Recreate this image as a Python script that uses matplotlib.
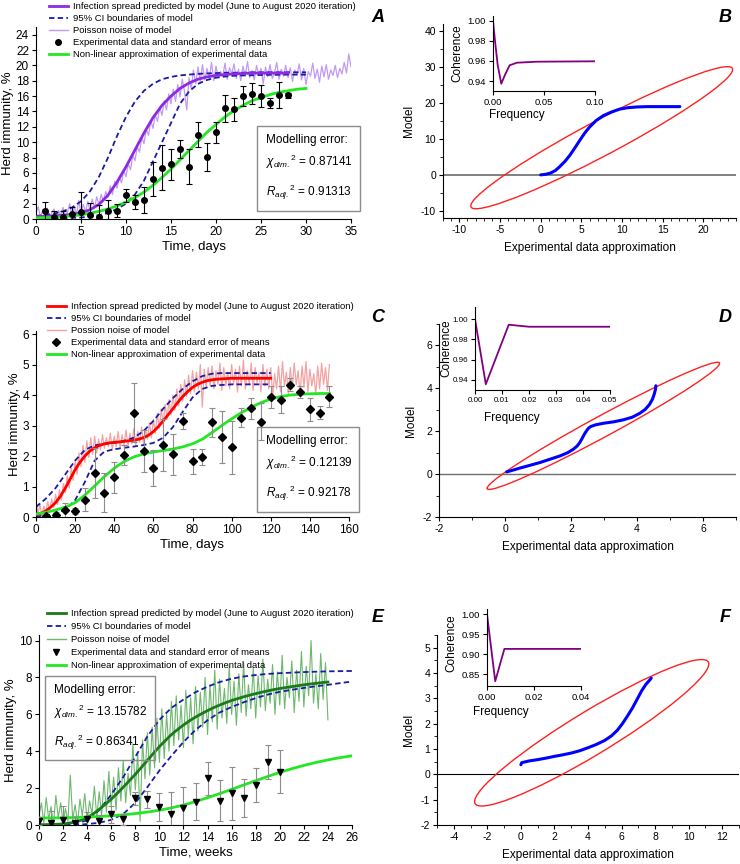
import numpy as np
import matplotlib.pyplot as plt
from matplotlib.patches import Ellipse, Rectangle
from matplotlib.lines import Line2D

plt.rcParams['font.family'] = ['Liberation Sans', 'DejaVu Sans']
plt.rcParams['mathtext.fontset'] = 'custom'
plt.rcParams['mathtext.rm'] = 'Liberation Sans'
plt.rcParams['mathtext.it'] = 'Liberation Sans:italic'
plt.rcParams['axes.linewidth'] = 0.8
plt.rcParams['axes.unicode_minus'] = False

# ---------------- panel A (days) ----------------
a_fit = [0.15, 0.18, 0.22, 0.3, 0.4, 0.55, 0.75, 1.0, 1.3, 1.7, 2.2, 2.8, 3.5, 4.4, 5.4, 6.5,
         7.7, 8.9, 10.1, 11.3, 12.3, 13.3, 14.1, 14.8, 15.4, 15.8, 16.2, 16.5, 16.7, 16.9, 17.0]
a_model = [0.3, 0.35, 0.4, 0.5, 0.6, 0.8, 1.2, 1.9, 3.1, 4.8, 6.8, 9.0, 11.2, 13.2, 14.8, 16.0,
           17.0, 17.7, 18.2, 18.5, 18.7, 18.8, 18.9, 18.95, 19.0, 19.0, 19.0, 19.0, 19.0]
a_ci_up = [0.4, 0.5, 0.7, 1.0, 1.5, 2.3, 3.6, 5.5, 8.0, 10.8, 13.3, 15.3, 16.7, 17.6, 18.2, 18.5,
           18.7, 18.8, 18.9, 18.95, 19.0, 19.05, 19.05, 19.05, 19.1, 19.1, 19.1, 19.1, 19.1, 19.1, 19.1]
a_ci_lo = [0.1, 0.1, 0.1, 0.12, 0.15, 0.2, 0.3, 0.5, 0.8, 1.3, 2.0, 3.2, 5.0, 7.5, 10.0, 12.5,
           15.0, 16.6, 17.6, 18.1, 18.4, 18.55, 18.65, 18.7, 18.72, 18.75, 18.77, 18.78, 18.8, 18.8, 18.8]
a_noise = [0.9, 1.6, 0.2, 1.2, 0.4, 1.4, 0.1, 0.8, 1.3, 0.2, 1.1, 0.5, 1.5, 0.3, 0.9, 2.0,
           0.4, 1.6, 0.6, 2.4, 0.7, 1.9, 0.9, 2.3, 1.1, 2.6, 1.4, 2.9, 1.8, 3.2, 2.3, 3.6,
           2.8, 4.3, 3.2, 4.9, 4.0, 5.5, 4.7, 6.3, 5.5, 7.2, 6.4, 8.3, 7.6, 9.4, 8.7, 10.6,
           9.8, 11.7, 10.9, 12.8, 11.8, 13.6, 12.7, 14.6, 13.5, 15.4, 14.2, 16.3, 15.0, 16.9, 15.3, 17.5,
           15.9, 18.2, 16.6, 14.2, 18.4, 17.0, 19.4, 17.6, 19.8, 17.9, 20.1, 18.1, 19.6, 18.3, 20.4, 18.0,
           19.9, 18.4, 19.2, 18.6, 20.3, 18.2, 19.7, 18.9, 20.2, 18.3, 19.5, 18.0, 19.9, 18.6, 20.5, 18.4,
           19.3, 18.1, 20.0, 18.7, 19.6, 17.6, 19.8, 18.5, 20.1, 18.3, 19.0, 20.4, 18.2, 19.5, 18.6, 20.0,
           18.4, 19.7, 17.9, 19.4, 18.8, 20.2, 18.1, 19.6, 17.5, 19.2, 18.6, 20.3, 18.3, 19.5, 17.8, 19.9,
           18.5, 20.1, 18.2, 19.4, 18.7, 20.0, 18.4, 19.6, 18.9, 20.4, 19.0, 21.5, 19.8]
a_exp_days = list(range(1, 29))
a_exp = [1.04, 0.3, 0.3, 0.7, 0.96, 0.5, 0.3, 1.1, 1.1, 3.1, 2.2, 2.5, 5.2, 6.7, 7.1, 9.1,
         6.8, 11.0, 8.1, 11.3, 14.4, 14.3, 16.0, 16.3, 16.0, 15.1, 16.2, 16.1]
a_err = [1.2, 0.7, 0.8, 0.8, 2.5, 1.6, 1.5, 1.4, 0.9, 0.87, 0.87, 1.67, 2.17, 2.9, 1.96, 1.2,
         2.3, 1.65, 1.85, 1.35, 1.78, 1.48, 1.26, 1.35, 1.4, 0.65, 1.7, 0.3]

# ---------------- panel B ----------------
b_x = [0.0, 0.6, 1.2, 1.8, 2.3, 3.0, 3.6, 4.2, 4.8, 5.4, 6.0, 6.8, 7.7, 8.7, 9.7, 10.7, 11.8, 13.0, 14.5, 16.0, 17.1]
b_y = [0.0, 0.15, 0.5, 1.2, 2.2, 3.8, 5.5, 7.5, 9.6, 11.6, 13.3, 15.1, 16.5, 17.5, 18.3, 18.7, 18.9, 19.0, 19.0, 19.0, 19.0]
b_ell = dict(center=(7.5, 10.35), width=50.5, height=7.05, angle=51.1)
b_freq = [0, 0.0023, 0.0046, 0.0081, 0.012, 0.0163, 0.0235, 0.043, 0.1]
b_coh = [1.0, 0.977, 0.956, 0.9373, 0.9467, 0.9557, 0.9583, 0.9593, 0.9597]

# ---------------- panel C (days) ----------------
c_model = [0.08, 0.12, 0.2, 0.32, 0.47, 0.68, 0.95, 1.25, 1.55, 1.8, 2.0, 2.16, 2.27, 2.35, 2.4, 2.43,
           2.45, 2.46, 2.48, 2.5, 2.52, 2.55, 2.6, 2.68, 2.8, 2.96, 3.15, 3.35, 3.55, 3.76, 3.95, 4.11,
           4.25, 4.35, 4.42, 4.47, 4.5, 4.52, 4.53, 4.54, 4.55, 4.55, 4.55, 4.55, 4.55, 4.55, 4.55, 4.55, 4.55]
c_ci_up = [0.33, 0.6, 0.95, 1.4, 1.85, 2.2, 2.35, 2.4, 2.43, 2.5, 2.6, 2.82, 3.15, 3.55, 3.9, 4.2,
           4.45, 4.62, 4.7, 4.72, 4.72, 4.72, 4.72, 4.72, 4.72]
c_ci_lo = [0.02, 0.05, 0.1, 0.25, 0.55, 1.15, 1.85, 2.15, 2.22, 2.27, 2.31, 2.36, 2.43, 2.6, 2.95, 3.45,
           3.92, 4.2, 4.3, 4.33, 4.35, 4.35, 4.35, 4.35, 4.35]
c_noise = [0.55, 0.1, 0.4, 0.05, 0.35, 0.15, 0.5, 0.2, 0.6, 0.3, 0.75, 0.4, 0.9, 0.55, 1.1, 0.8,
           1.35, 0.95, 1.6, 1.2, 1.85, 1.4, 2.1, 1.65, 2.35, 1.8, 2.5, 1.95, 2.6, 2.05, 2.65, 2.1,
           2.55, 2.2, 2.7, 2.25, 2.6, 2.3, 2.75, 2.2, 2.65, 2.3, 2.8, 2.25, 2.7, 2.35, 2.85, 2.3,
           2.75, 2.4, 2.9, 2.35, 2.8, 2.45, 2.95, 2.4, 2.9, 2.55, 3.1, 2.6, 3.2, 2.75, 3.4, 2.9,
           3.55, 3.05, 3.7, 3.2, 3.85, 3.35, 4.0, 3.5, 4.2, 3.65, 4.35, 3.8, 4.5, 3.95, 4.65, 4.05,
           4.8, 4.1, 4.75, 4.2, 5.0, 3.6, 4.85, 4.25, 4.9, 4.3, 4.95, 4.2, 4.8, 4.35, 5.05, 4.15,
           4.9, 4.3, 4.75, 4.2, 5.0, 4.35, 4.85, 4.1, 4.95, 4.3, 5.15, 4.2, 4.8, 4.35, 5.05, 4.15,
           4.9, 4.4, 4.75, 4.1, 5.0, 4.3, 4.85, 4.2, 4.9, 3.95, 4.7, 4.2, 4.95, 4.1, 5.1, 4.3,
           4.75, 4.05, 4.9, 4.2, 5.05, 4.35, 4.8, 4.0, 4.95, 4.25, 5.1, 4.1, 4.85, 4.3, 4.7, 4.0,
           4.95, 4.2, 5.05, 4.35, 4.9, 4.15, 5.0]
c_exp_days = list(range(5, 151, 5))
c_exp = [0.02, 0.06, 0.22, 0.2, 0.57, 1.43, 0.8, 1.3, 2.04, 3.42, 2.17, 1.61, 2.35, 2.06, 3.15,
         1.83, 1.97, 3.1, 2.63, 2.28, 3.26, 3.56, 3.13, 3.93, 3.84, 4.34, 4.09, 3.53, 3.42, 3.95]
c_err = [0.05, 0.1, 0.25, 0.1, 0.37, 0.82, 0.64, 0.52, 0.32, 0.97, 0.68, 0.6, 0.85, 0.67, 0.25,
         0.41, 0.25, 0.47, 0.85, 0.87, 0.3, 0.33, 0.6, 0.36, 0.44, 0.22, 0.2, 0.38, 0.22, 0.33]
c_fit = [0.1, 0.15, 0.23, 0.32, 0.47, 0.72, 1.02, 1.33, 1.6, 1.82, 1.97, 2.07, 2.13, 2.18, 2.23, 2.3,
         2.4, 2.55, 2.77, 3.0, 3.22, 3.42, 3.6, 3.75, 3.87, 3.95, 4.0, 4.03, 4.04, 4.05, 4.05]

# ---------------- panel D ----------------
d_x = [0.05, 0.45, 1.06, 1.67, 1.9, 2.07, 2.18, 2.27, 2.34, 2.4, 2.47, 2.53, 2.6, 2.75, 2.98, 3.3,
       3.58, 3.85, 4.09, 4.25, 4.38, 4.47, 4.52, 4.56, 4.57]
d_y = [0.1, 0.28, 0.54, 0.85, 1.0, 1.16, 1.3, 1.48, 1.67, 1.85, 2.02, 2.14, 2.22, 2.3, 2.37, 2.44,
       2.53, 2.65, 2.84, 3.02, 3.25, 3.5, 3.72, 3.95, 4.12]
d_ell = dict(center=(2.98, 2.25), width=9.17, height=0.86, angle=40.0)
d_freq = [0, 0.004, 0.0125, 0.02, 0.05]
d_coh = [1.0, 0.9357, 0.9945, 0.9925, 0.9925]

# ---------------- panel E (weeks) ----------------
e_model = [0.02, 0.02, 0.03, 0.04, 0.06, 0.1, 0.16, 0.26, 0.4, 0.6, 0.85, 1.12, 1.4, 1.72, 2.05, 2.4,
           2.75, 3.12, 3.5, 3.88, 4.25, 4.58, 4.9, 5.17, 5.42, 5.65, 5.85, 6.03, 6.2, 6.36, 6.5, 6.63,
           6.75, 6.85, 6.95, 7.04, 7.12, 7.2, 7.27, 7.34, 7.4, 7.45, 7.5, 7.55, 7.6, 7.64, 7.68, 7.72, 7.75]
e_ci_up = [0.0, 0.01, 0.03, 0.08, 0.25, 0.8, 1.65, 2.6, 3.7, 4.8, 5.7, 6.35, 6.8, 7.2, 7.5, 7.75,
           7.93, 8.05, 8.13, 8.19, 8.23, 8.26, 8.29, 8.31, 8.33, 8.34, 8.35]
e_ci_lo = [0.0, 0.0, 0.01, 0.02, 0.05, 0.12, 0.28, 0.6, 1.2, 2.05, 2.95, 3.75, 4.5, 5.15, 5.68, 6.1,
           6.4, 6.65, 6.88, 7.07, 7.22, 7.33, 7.43, 7.52, 7.6, 7.69, 7.78]
e_fit = [0.38, 0.38, 0.39, 0.41, 0.43, 0.46, 0.5, 0.55, 0.62, 0.7, 0.8, 0.93, 1.08, 1.27, 1.48, 1.7,
         1.93, 2.17, 2.4, 2.63, 2.85, 3.05, 3.23, 3.39, 3.53, 3.65, 3.75]
e_noise = [0.5, 1.2, 0.1, 1.5, 0.3, 1.0, 0.0, 1.6, 0.4, 1.2, 0.1, 0.9, 0.2, 2.7, 0.3, 1.1,
           0.1, 1.4, 0.5, 1.7, 0.2, 1.3, 0.6, 2.1, 0.4, 1.8, 0.5, 2.4, 0.7, 2.9, 1.0, 2.6,
           0.8, 3.1, 1.3, 3.5, 1.2, 2.8, 1.6, 4.4, 1.9, 3.9, 0.2, 4.6, 2.5, 5.0, 2.7, 5.3,
           3.1, 5.8, 3.4, 6.3, 3.6, 6.0, 4.0, 6.7, 4.3, 7.0, 4.6, 6.5, 4.2, 7.3, 4.8, 6.9,
           4.4, 7.5, 5.1, 7.2, 5.3, 8.0, 4.9, 7.6, 5.6, 8.4, 5.2, 7.9, 5.8, 7.4, 5.5, 8.6,
           6.0, 7.8, 5.4, 8.2, 6.1, 8.8, 5.9, 7.6, 6.3, 8.5, 5.8, 8.1, 6.4, 9.0, 6.2, 7.9,
           6.6, 8.7, 6.0, 8.3, 6.5, 9.2, 6.3, 8.0, 6.9, 8.9, 6.1, 8.4, 6.7, 9.4, 6.4, 8.6,
           7.0, 10.0, 6.6, 8.2, 6.3, 9.3, 6.8, 8.8, 5.7]
e_exp_weeks = list(range(0, 21))
e_exp = [0.22, 0.13, 0.27, 0.13, 0.3, 0.23, 0.58, 0.3, 1.45, 1.39, 1.0, 0.6, 0.94, 1.25, 2.53, 1.32,
         1.72, 1.46, 2.17, 3.44, 2.89]
e_err = [0.2, 0.65, 0.75, 0.3, 0.42, 0.3, 0.45, 0.3, 0.35, 0.47, 0.76, 1.2, 1.1, 1.0, 0.88, 1.13,
         1.45, 1.03, 0.9, 0.92, 1.15]

# ---------------- panel F ----------------
f_x = [0.0, 0.05, 0.5, 1.0, 1.5, 2.0, 2.5, 3.0, 3.5, 4.0, 4.5, 5.0, 5.4, 5.75, 6.05, 6.35, 6.65,
       6.95, 7.2, 7.45, 7.65, 7.77]
f_y = [0.38, 0.46, 0.53, 0.58, 0.64, 0.71, 0.77, 0.84, 0.93, 1.05, 1.18, 1.34, 1.52, 1.74, 2.0,
       2.3, 2.62, 2.99, 3.3, 3.55, 3.7, 3.8]
f_ell = dict(center=(4.22, 1.64), width=15.0, height=1.85, angle=21.6)
f_freq = [0, 0.0035, 0.0074, 0.04]
f_coh = [1.0, 0.832, 0.913, 0.913]

W, H = 740, 864


def fx(px):
    return px / W


def fy(py):
    return 1 - py / H


def box(l, t, r, b):
    return [fx(l), fy(b), fx(r) - fx(l), fy(t) - fy(b)]


def clean(ax, fs):
    ax.spines['top'].set_visible(False)
    ax.spines['right'].set_visible(False)
    ax.tick_params(direction='out', length=3, width=0.8, labelsize=fs, pad=2)
    ax.tick_params(which='minor', direction='out', length=2, width=0.6)


fig = plt.figure(figsize=(7.4, 8.64), dpi=100)

CI = '#1a1aa8'
LIME = '#22e822'


def time_panel(rect, t_model, model, model_col, t_noise, noise, noise_col, noise_lw,
               t_ci, ci_up, ci_lo, t_fit, fit, t_exp, exp, err, mk, ms, ecol,
               labels, leg_xy, leg_sp, xlim, ylim, xticks, yticks, xlabel, err_box, err_texts):
    ax = fig.add_axes(rect)
    clean(ax, 8.5)
    ax.plot(t_noise, noise, color=noise_col, lw=noise_lw, zorder=1)
    ax.plot(t_ci, ci_up, color=CI, lw=1.3, ls=(0, (3, 1.8)), zorder=2)
    ax.plot(t_ci, ci_lo, color=CI, lw=1.3, ls=(0, (3, 1.8)), zorder=2)
    ax.plot(t_model, model, color=model_col, lw=2.0, zorder=3)
    ax.plot(t_fit, fit, color=LIME, lw=2.0, zorder=4)
    ax.errorbar(t_exp, exp, yerr=err, fmt=mk, color='black', ms=ms, ecolor=ecol,
                elinewidth=0.8, capsize=2, capthick=0.8, zorder=5)
    ax.set_xlim(*xlim)
    ax.set_ylim(*ylim)
    ax.set_xticks(xticks)
    ax.set_yticks(yticks)
    ax.set_xlabel(xlabel, fontsize=9.5, labelpad=2)
    ax.set_ylabel('Herd immunity, %', fontsize=9.5, labelpad=1)
    handles = [Line2D([], [], color=model_col, lw=2.0),
               Line2D([], [], color=CI, lw=1.3, ls=(0, (3, 1.8))),
               Line2D([], [], color=noise_col, lw=1.0),
               Line2D([], [], color='black', marker=mk, ms=ms, ls='none'),
               Line2D([], [], color=LIME, lw=2.0)]
    ax.legend(handles, labels, loc='upper left', bbox_to_anchor=leg_xy,
              bbox_transform=fig.transFigure, frameon=False, fontsize=6.8,
              handlelength=2.0, handletextpad=0.5, labelspacing=leg_sp, borderpad=0,
              borderaxespad=0)
    l, t, r, b = err_box
    fig.add_artist(Rectangle((fx(l), fy(b)), fx(r) - fx(l), fy(t) - fy(b),
                             transform=fig.transFigure, fill=False, ec='#8c8c8c', lw=1.0))
    for txt, py in zip(err_texts, [t + 14, t + 36, t + 66]):
        fig.text(fx(l + 9), fy(py), txt, fontsize=8.5, va='center', ha='left')
    return ax


def scatter_panel(rect, x, y, ell, zero_col, zero_lw, xlim, ylim, xticks, yticks,
                  xminor, yminor, inset_rect, freq, coh, ixlim, iylim, ixticks, iyticks, ifs,
                  xlab_at, ylab_at):
    ax = fig.add_axes(rect)
    clean(ax, 7.5)
    ax.axhline(0, color=zero_col, lw=zero_lw, zorder=1)
    ax.add_patch(Ellipse(ell['center'], ell['width'], ell['height'], angle=ell['angle'],
                         fill=False, ec='#ff2020', lw=1.0, zorder=2))
    ax.plot(x, y, color='#0000ff', lw=2.2, zorder=3, solid_capstyle='round',
            solid_joinstyle='round')
    ax.set_xlim(*xlim)
    ax.set_ylim(*ylim)
    ax.set_xticks(xticks)
    ax.set_yticks(yticks)
    ax.set_xticks(xminor, minor=True)
    ax.set_yticks(yminor, minor=True)
    ax.set_xlabel('Experimental data approximation', fontsize=8.5, labelpad=5)
    ax.set_ylabel('Model', fontsize=8.5, labelpad=4)
    ins = fig.add_axes(inset_rect)
    clean(ins, ifs)
    ins.plot(freq, coh, color='#800080', lw=1.3)
    ins.set_xlim(*ixlim)
    ins.set_ylim(*iylim)
    ins.set_xticks(ixticks)
    ins.set_yticks(iyticks)
    ins.set_xticklabels(['{:.2f}'.format(v) for v in ixticks])
    ins.set_yticklabels(['{:.2f}'.format(v) for v in iyticks])
    ins.set_xlabel('Frequency', fontsize=8.5)
    ins.set_ylabel('Coherence', fontsize=8.5)
    ins.xaxis.set_label_coords(*xlab_at)
    ins.yaxis.set_label_coords(*ylab_at)
    ins.patch.set_alpha(0)
    return ax


leg_a = ['Infection spread predicted by model (June to August 2020 iteration)',
         '95% CI boundaries of model', 'Poisson noise of model',
         'Experimental data and standard error of means',
         'Non-linear approximation of experimental data']
leg_c = list(leg_a)
leg_c[2] = 'Possion noise of model'

# A
time_panel(box(36, 27, 351, 219), np.arange(len(a_model)), a_model, '#8b2be2',
           np.arange(len(a_noise)) * 0.25, a_noise, '#c19af5', 0.9,
           np.arange(len(a_ci_up)), a_ci_up, a_ci_lo, np.arange(len(a_fit)), a_fit,
           a_exp_days, a_exp, a_err, 'o', 4.0, 'black',
           leg_a, (fx(49), fy(2)), 0.33, (0, 35), (0, 25), range(0, 36, 5), range(0, 25, 2),
           'Time, days', (257, 126, 360, 211),
           ['Modelling error:', r'$\chi_{dim.}{}^{2}$ = 0.87141', r'$R_{adj.}{}^{2}$ = 0.91313'])

# C
time_panel(box(36, 331, 349, 517), np.arange(len(c_model)) * 2.5, c_model, '#ff0000',
           np.arange(len(c_noise)), c_noise, '#f4a3a3', 0.9,
           np.arange(len(c_ci_up)) * 5, c_ci_up, c_ci_lo, np.arange(len(c_fit)) * 5, c_fit,
           c_exp_days, c_exp, c_err, 'D', 4.0, '#8c8c8c',
           leg_c, (fx(47), fy(302)), 0.33, (0, 160), (0, 6.1), range(0, 161, 20), range(0, 7),
           'Time, days', (257, 427, 359, 512),
           ['Modelling error:', r'$\chi_{dim.}{}^{2}$ = 0.12139', r'$R_{adj.}{}^{2}$ = 0.92178'])

# E
time_panel(box(39, 635, 352, 825), np.arange(len(e_model)) * 0.5, e_model, '#1a7a1a',
           np.arange(len(e_noise)) * 0.2, e_noise, '#6cb86c', 0.8,
           np.arange(len(e_ci_up)), e_ci_up, e_ci_lo, np.arange(len(e_fit)), e_fit,
           e_exp_weeks, e_exp, e_err, 'v', 4.5, '#8c8c8c',
           leg_a, (fx(47), fy(609)), 0.42, (0, 26), (0, 10.3), range(0, 27, 2), range(0, 11, 2),
           'Time, weeks', (45, 676, 155, 760),
           ['Modelling error:', r'$\chi_{dim.}{}^{2}$ = 13.15782', r'$R_{adj.}{}^{2}$ = 0.86341'])

# B
scatter_panel(box(443, 24, 736, 218), b_x, b_y, b_ell, '#808080', 1.4,
              (-12, 24), (-12, 42), range(-10, 21, 5), range(-10, 41, 10),
              range(-12, 25, 1), range(-10, 41, 5),
              box(493, 16, 595, 91), b_freq, b_coh, (0, 0.1), (0.93, 1.005),
              [0, 0.05, 0.10], [0.94, 0.96, 0.98, 1.00], 6.8,
              (0.235, -0.24), (-0.29, 0.5))

# D
scatter_panel(box(439, 324, 736, 517), d_x, d_y, d_ell, '#707070', 1.0,
              (-2, 7), (-2, 7), range(-2, 7, 2), range(-2, 7, 2),
              range(-2, 8, 1), range(-2, 8, 1),
              box(475, 307, 610, 390), d_freq, d_coh, (0, 0.05), (0.93, 1.012),
              [0, 0.01, 0.02, 0.03, 0.04, 0.05], [0.94, 0.96, 0.98, 1.00], 5.8,
              (0.27, -0.265), (-0.17, 0.5))

# F
scatter_panel(box(437, 635, 739, 825), f_x, f_y, f_ell, 'black', 0.8,
              (-5, 13), (-2, 5.5), range(-4, 13, 2), range(-2, 6, 1),
              range(-5, 14, 1), np.arange(-2, 5.6, 0.5),
              box(487, 609, 581, 686), f_freq, f_coh, (0, 0.04), (0.82, 1.013),
              [0, 0.02, 0.04], [0.85, 0.90, 0.95, 1.00], 6.8,
              (0.15, -0.26), (-0.31, 0.56))

for letter, px, py in [('A', 378, 17), ('B', 725, 17), ('C', 378, 317), ('D', 725, 317),
                       ('E', 378, 618), ('F', 725, 618)]:
    fig.text(fx(px), fy(py), letter, fontsize=13, fontweight='bold', fontstyle='italic',
             ha='center', va='center')

fig.savefig('out.png', dpi=100)
